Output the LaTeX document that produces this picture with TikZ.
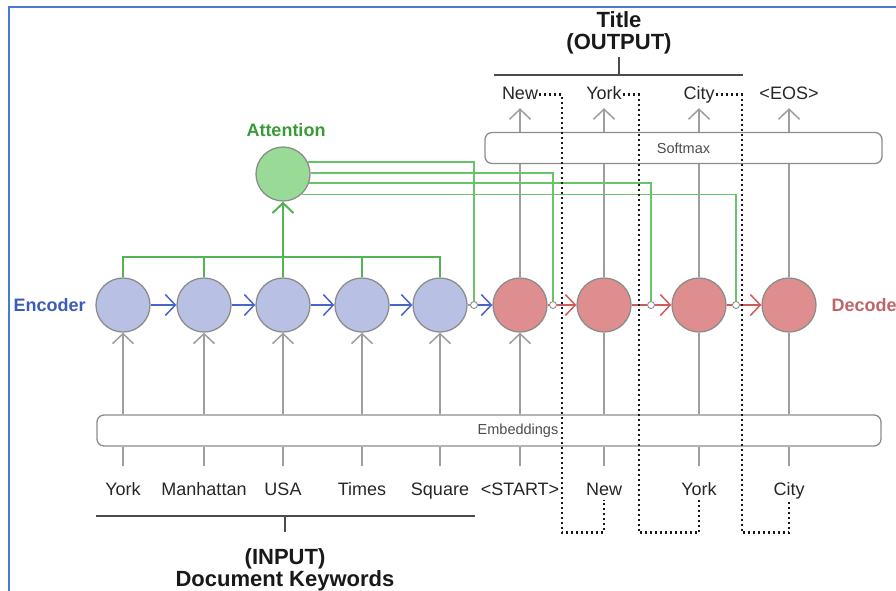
\documentclass[tikz,border=0pt]{standalone}
\usepackage{fontspec}
\setmainfont{Liberation Sans}
\usetikzlibrary{arrows.meta,positioning,calc}
\definecolor{encfill}{RGB}{184,193,228}
\definecolor{decfill}{RGB}{222,142,142}
\definecolor{attfill}{RGB}{152,218,150}
\definecolor{enctext}{RGB}{60,92,182}
\definecolor{dectext}{RGB}{192,100,104}
\definecolor{atttext}{RGB}{58,154,58}
\definecolor{encline}{RGB}{72,102,200}
\definecolor{decline}{RGB}{206,92,92}
\definecolor{busgreen}{RGB}{82,180,82}
\definecolor{feedgreen}{RGB}{105,195,105}
\definecolor{cellgray}{RGB}{140,140,140}
\definecolor{wiregray}{RGB}{158,158,158}
\definecolor{framecol}{RGB}{72,122,210}
\tikzset{
  cell/.style={circle,draw=cellgray,line width=1.3pt,minimum size=54pt,inner sep=0pt},
  enc/.style={cell,fill=encfill},
  dec/.style={cell,fill=decfill},
  att/.style={cell,fill=attfill},
  junc/.style={circle,draw=cellgray,fill=white,line width=0.9pt,minimum size=7pt,inner sep=0pt},
  word/.style={font=\fontsize{18}{20}\selectfont,text=black!85,inner sep=1pt,
    text height=13pt,text depth=4pt,anchor=base},
  layer/.style={draw=cellgray,rounded corners=7pt,line width=1.3pt,minimum height=31pt,inner sep=0pt},
  layername/.style={font=\fontsize{14.5}{16}\selectfont,text=black!70},
  tag/.style={font=\bfseries\fontsize{18}{20}\selectfont},
  head/.style={font=\bfseries\fontsize{22}{22}\selectfont,align=center,text=black!90,inner sep=3pt},
  wire/.style={draw=wiregray,line width=1.5pt},
  tip/.style={-{Straight Barb[length=10pt,width=21pt]}},
  up/.style={wire,tip},
  ebar/.style={draw=encline,line width=1.5pt,tip},
  dbar/.style={draw=decline,line width=1.5pt,tip},
  bus/.style={draw=busgreen,line width=2pt},
  attline/.style={draw=feedgreen,line width=1.3pt},
  feed/.style={draw=black!90,line width=2.2pt,dash pattern=on 2pt off 3pt},
  brk/.style={draw=black!70,line width=1.5pt},
}

\begin{document}
\begin{tikzpicture}[x=1pt,y=-1pt]
\useasboundingbox (0,0) rectangle (896,590);
\draw[framecol,line width=2.5pt] (9,600) -- (9,7) -- (906,7);

% cells
\node[enc] (e1) at (123,305) {};
\node[enc] (e2) at (204,305) {};
\node[enc] (e3) at (283,305) {};
\node[enc] (e4) at (362,305) {};
\node[enc] (e5) at (440,305) {};
\node[dec] (d1) at (520,305) {};
\node[dec] (d2) at (604,305) {};
\node[dec] (d3) at (699,305) {};
\node[dec] (d4) at (789,305) {};
\node[att] (att) at (283,174) {};
\node[junc] (j1) at (474,305) {};
\node[junc] (j2) at (553,305) {};
\node[junc] (j3) at (651,305) {};
\node[junc] (j4) at (736,305) {};

\node[tag,text=enctext,anchor=west] at (10,305) {Encoder};
\node[tag,text=dectext,anchor=west] at (828,305) {Decoder};
\node[tag,text=atttext] at (286,130) {Attention};

% layers
\node[layer,minimum width=784pt,label={[layername,xshift=29pt]center:Embeddings}] (emb) at (489,430.5) {};
\node[layer,minimum width=397pt,label={[layername]center:Softmax}] (soft) at (683.5,148) {};

% input and output words
\node[word] (w1) at (123,495) {York};
\node[word] (w2) at (204,495) {Manhattan};
\node[word] (w3) at (283,495) {USA};
\node[word] (w4) at (362,495) {Times};
\node[word] (w5) at (440,495) {Square};
\node[word] (w6) at (520,495) {<START>};
\node[word] (w7) at (604,495) {New};
\node[word] (w8) at (699,495) {York};
\node[word] (w9) at (789,495) {City};
\node[word] (o1) at (520,99) {New};
\node[word] (o2) at (604,99) {York};
\node[word] (o3) at (699,99) {City};
\node[word] (o4) at (789,99) {<EOS>};

\node[head,anchor=south] (outhead) at (619,57) {Title\\(OUTPUT)};
\node[head,anchor=north] (inhead) at (285,545) {(INPUT)\\Document Keywords};

% vertical wires
\foreach \i in {1,...,5}{
  \draw[up] (emb.north -| e\i) -- (e\i.south);
}
\foreach \i in {1,...,9}{
  \draw[wire,shorten >=15pt] (emb.south -| w\i) -- (w\i.north);
}
\draw[up] (emb.north -| d1) -- (d1.south);
\foreach \i in {2,3,4}{
  \draw[wire] (emb.north -| d\i) -- (d\i.south);
}
\foreach \i in {1,...,4}{
  \draw[wire] (d\i.north) -- (soft.south -| d\i);
  \draw[up,shorten >=4pt] (soft.north -| d\i) -- (o\i.south);
}

% recurrent links
\foreach \i/\j in {1/2,2/3,3/4,4/5}{
  \draw[ebar] (e\i) -- (e\j);
}
\draw[wire] (e5) -- (j1);
\draw[ebar] (j1) -- (d1);
\draw[draw=decline,line width=1.5pt] (d1) -- (j2) (d2) -- (j3) (d3) -- (j4);
\draw[dbar] (j2) -- (d2);
\draw[dbar] (j3) -- (d3);
\draw[dbar] (j4) -- (d4);

% attention
\draw[bus] (e1.north) -- ++(0,-20) -| (e5.north);
\draw[bus] (e2.north) -- ++(0,-20);
\draw[bus] (e4.north) -- ++(0,-20);
\draw[bus,tip] (e3.north) -- (att.south);
\draw[attline] (att.26) -| (j1.north);
\draw[attline] (att.2) -| (j2.north);
\draw[attline] (att.-19) -| (j3.north);
\draw[attline] (att.-48) -| (j4.north);

% fed back outputs
\draw[feed] (o1.east) -- ++(23,0) -- ++(0,438) -| (w7.south);
\draw[feed] (o2.east) -- ++(16,0) -- ++(0,438) -| (w8.south);
\draw[feed] (o3.east) -- ++(26,0) -- ++(0,438) -| (w9.south);

% brackets
\coordinate (tl) at (494,75);
\coordinate (tr) at (743,75);
\coordinate (bl) at (96,516);
\coordinate (br) at (475,516);
\draw[brk] (tl) -- (tr) (outhead.south) -- (outhead.south |- tl);
\draw[brk] (bl) -- (br) (bl -| inhead) -- ++(0,16);
\end{tikzpicture}
\end{document}
